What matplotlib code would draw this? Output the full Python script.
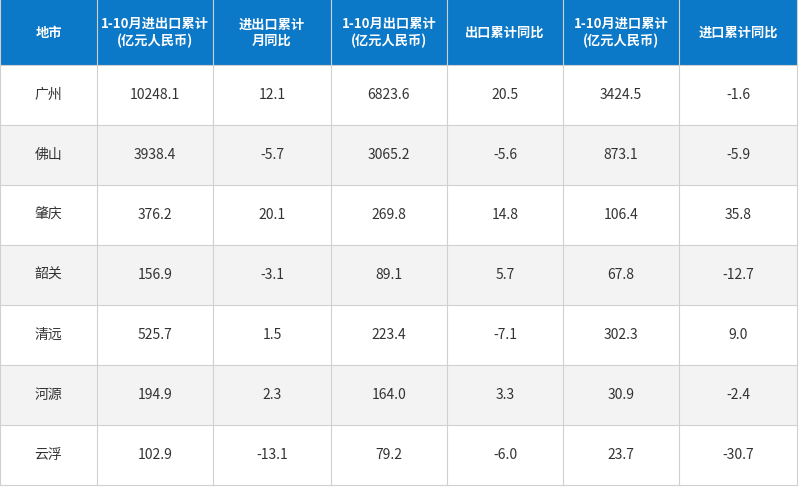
import matplotlib
matplotlib.use("Agg")
import matplotlib.pyplot as plt
from matplotlib.patches import Rectangle

plt.rcParams['font.family'] = ['Noto Sans CJK SC', 'DejaVu Sans']

# 表格数据
headers = ["地市", "1-10月进出口累计\n(亿元人民币)", "进出口累计\n月同比", "1-10月出口累计\n(亿元人民币)",
           "出口累计同比", "1-10月进口累计\n(亿元人民币)", "进口累计同比"]
cities = ["广州", "佛山", "肇庆", "韶关", "清远", "河源", "云浮"]
total = ["10248.1", "3938.4", "376.2", "156.9", "525.7", "194.9", "102.9"]
total_yoy = ["12.1", "-5.7", "20.1", "-3.1", "1.5", "2.3", "-13.1"]
export = ["6823.6", "3065.2", "269.8", "89.1", "223.4", "164.0", "79.2"]
export_yoy = ["20.5", "-5.6", "14.8", "5.7", "-7.1", "3.3", "-6.0"]
imports = ["3424.5", "873.1", "106.4", "67.8", "302.3", "30.9", "23.7"]
import_yoy = ["-1.6", "-5.9", "35.8", "-12.7", "9.0", "-2.4", "-30.7"]

columns = [cities, total, total_yoy, export, export_yoy, imports, import_yoy]
col_edges = [0, 97, 213, 331, 447, 563, 679, 797]
header_h = 65
row_h = 60

fig = plt.figure(figsize=(7.99, 4.88), dpi=100)
ax = fig.add_axes([0, 0, 1, 1])
ax.set_xlim(0, 799)
ax.set_ylim(488, 0)
ax.axis('off')

# 表头
ax.add_patch(Rectangle((0, 0), col_edges[-1], header_h, color='#0b78c8', lw=0))
for i, h in enumerate(headers):
    cx = (col_edges[i] + col_edges[i + 1]) / 2
    ax.text(cx, header_h / 2, h, ha='center', va='center', color='white',
            fontsize=9.5, fontweight='bold', linespacing=1.2)

# 数据行
n = len(cities)
for r in range(n):
    y0 = header_h + r * row_h
    if r % 2 == 1:
        ax.add_patch(Rectangle((0, y0), col_edges[-1], row_h, color='#f3f3f3', lw=0))
    for c, col in enumerate(columns):
        cx = (col_edges[c] + col_edges[c + 1]) / 2
        ax.text(cx, y0 + row_h / 2, col[r], ha='center', va='center',
                color='#333333', fontsize=10)

# 网格线
bottom = header_h + n * row_h
for x in col_edges:
    ax.plot([x, x], [0, bottom], color='#d0d0d0', lw=0.8)
for r in range(n + 1):
    y = header_h + r * row_h
    ax.plot([0, col_edges[-1]], [y, y], color='#d0d0d0', lw=0.8)

fig.savefig("out.png", dpi=100)
